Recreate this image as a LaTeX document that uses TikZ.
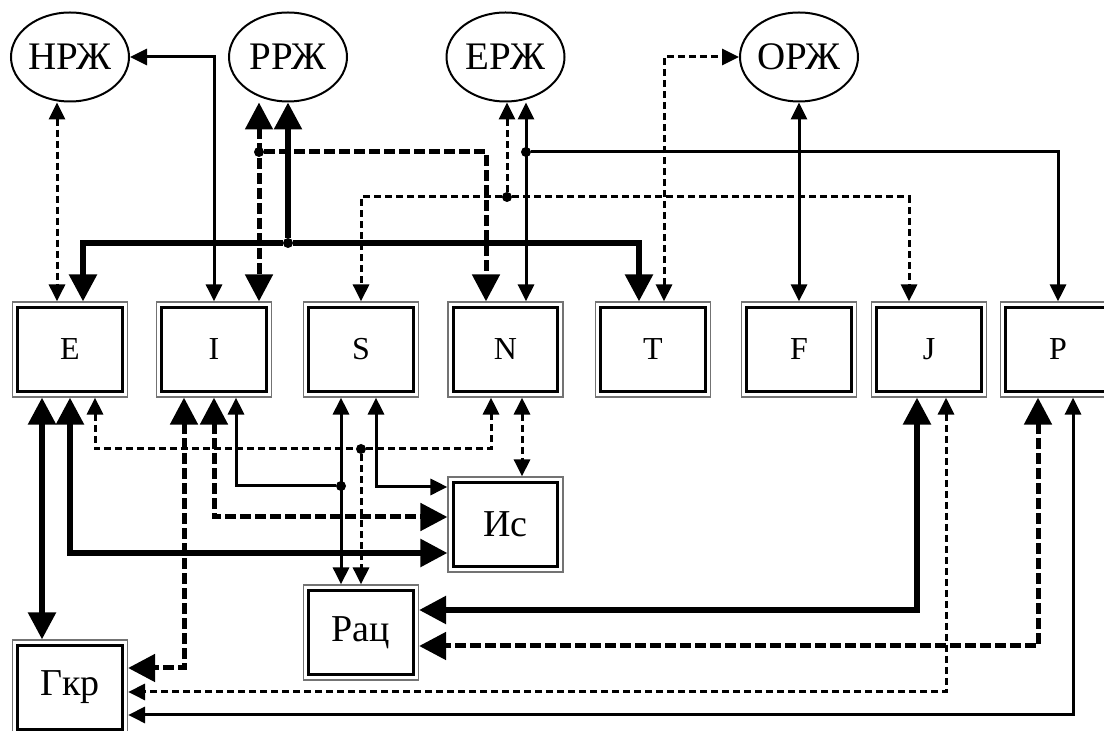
\documentclass[tikz,border=0pt]{standalone}
\usepackage{fontspec}
\setmainfont{Liberation Serif}
\usetikzlibrary{arrows.meta,shapes.geometric}
\tikzset{bx/.append style={draw=black!55, line width=0.6pt, minimum width=57.5pt, minimum height=47.5pt, inner sep=0pt, font=\fontsize{16}{16}\selectfont,
  path picture={\draw[black,line width=1.4pt] ([shift={(2.6pt,-2.6pt)}]path picture bounding box.north west) rectangle ([shift={(-2.6pt,2.6pt)}]path picture bounding box.south east);}}}
\tikzset{bb/.append style={font=\fontsize{19}{19}\selectfont}}
\tikzset{el/.append style={draw, ellipse, line width=1pt, minimum width=59pt, minimum height=44.5pt, inner sep=0pt, font=\fontsize{19.5}{19.5}\selectfont}}
\tikzset{jd/.append style={circle, fill, inner sep=0pt, minimum size=5pt}}
\tikzset{tn/.append style={line width=1.5pt, >={Triangle[length=8.5pt,width=8pt]}}}
\tikzset{dt/.append style={line width=1.5pt, dash pattern=on 3.5pt off 2pt, >={Triangle[length=8.5pt,width=8pt]}}}
\tikzset{th/.append style={line width=2.8pt, >={Triangle[length=13.5pt,width=13.5pt]}}}
\tikzset{dd/.append style={line width=2.5pt, dash pattern=on 5.5pt off 2pt, >={Triangle[length=13.5pt,width=13.5pt]}}}

\begin{document}
\begin{tikzpicture}[x=0.5pt,y=-0.5pt]
                \useasboundingbox (0,0) rectangle (1104,731);
                \node[el] (nrj) at (70,57) {НРЖ};
                \node[el] (rrj) at (288,57) {РРЖ};
                \node[el] (erj) at (505.5,57) {ЕРЖ};
                \node[el] (orj) at (799,57) {ОРЖ};
                \node[bx] (E) at (70,349.5) {E};
                \node[bx] (I) at (214,349.5) {I};
                \node[bx] (S) at (361,349.5) {S};
                \node[bx] (N) at (505.5,349.5) {N};
                \node[bx] (T) at (653,349.5) {T};
                \node[bx] (F) at (799,349.5) {F};
                \node[bx] (J) at (929,349.5) {J};
                \node[bx] (P) at (1058,349.5) {P};
                \node[bx,bb] (Is) at (505.5,524.5) {Ис};
                \node[bx,bb] (Rac) at (361,632.5) {Рац};
                \node[bx,bb] (Gkr) at (70,687.5) {Гкр};
                \node[jd] (j1) at (259,152) {};
                \node[jd] (j2) at (288,243) {};
                \node[jd] (j3) at (526,152) {};
                \node[jd] (j4) at (507,197) {};
                \node[jd] (j5) at (361,449) {};
                \node[jd] (j6) at (341,486) {};
                % top
                \draw[dt,<->] ([xshift=-6.5pt]nrj.south) -- ([xshift=-6.5pt]E.north);
                \draw[tn,<->] (I.north) |- (nrj.east);
                \draw[dd,<->] ([xshift=-14.5pt]rrj.south) -- ([xshift=22.5pt]I.north);
                \draw[dd,->] (j1) -| ([xshift=-9.75pt]N.north);
                \draw[th,->] (j2) -- (rrj.south);
                \draw[th,->] (j2) -| ([xshift=6.5pt]E.north);
                \draw[th,->] (j2) -| ([xshift=-7pt]T.north);
                \draw[tn,<->] ([xshift=10.25pt]erj.south) -- ([xshift=10.25pt]N.north);
                \draw[tn,->] (j3) -| (P.north);
                \draw[dt,->] (j4) -- ([xshift=0.75pt]erj.south);
                \draw[dt,->] (j4) -| (S.north);
                \draw[dt,->] (j4) -| ([xshift=-10pt]J.north);
                \draw[dt,<->] ([xshift=5.5pt]T.north) |- (orj.west);
                \draw[tn,<->] (F.north) -- (orj.south);
                % bottom
                \draw[th,<->] ([xshift=-14pt]E.south) -- ([xshift=-14pt]Gkr.north);
                \draw[th,<->] (E.south) |- ([yshift=-14.25pt]Is.west);
                \draw[dt,<-] ([xshift=12.5pt]E.south) |- (j5);
                \draw[dt,->] (j5) -| ([xshift=-7.25pt]N.south);
                \draw[dt,->] (j5) -- (Rac.north);
                \draw[dd,<->] ([xshift=-15pt]I.south) |- ([yshift=9.75pt]Gkr.east);
                \draw[dd,<->] (I.south) |- ([yshift=3.75pt]Is.west);
                \draw[tn,<-] ([xshift=11pt]I.south) |- (j6);
                \draw[tn,<->] ([xshift=-10pt]S.south) -- ([xshift=-10pt]Rac.north);
                \draw[tn,<->] ([xshift=7.5pt]S.south) |- ([yshift=18.75pt]Is.west);
                \draw[dt,<->] ([xshift=8.25pt]N.south) -- ([xshift=8.25pt]Is.north);
                \draw[th,<->] ([xshift=-6pt]J.south) |- ([yshift=11.25pt]Rac.east);
                \draw[dd,<->] ([xshift=-10pt]P.south) |- ([yshift=-6.75pt]Rac.east);
                \draw[dt,<->] ([xshift=8.5pt]J.south) |- ([yshift=-2.25pt]Gkr.east);
                \draw[tn,<->] ([xshift=7.5pt]P.south) |- ([yshift=-13.75pt]Gkr.east);
            \end{tikzpicture}
\end{document}
